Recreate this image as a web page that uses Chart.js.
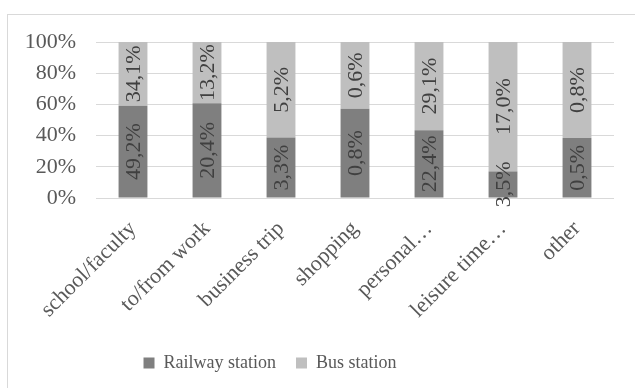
<!DOCTYPE html>
<html>
<head>
<meta charset="utf-8">
<script src="https://cdn.jsdelivr.net/npm/chart.js@4/dist/chart.umd.min.js"></script>
<style>
  html, body { margin: 0; padding: 0; background: #fff; }
  #wrap { position: relative; width: 635px; height: 388px; overflow: hidden; }
  #frame { position: absolute; left: 7px; top: 14px; width: 700px; height: 500px; border: 1px solid #d9d9d9; }
  #chart { position: absolute; left: 0; top: 0; }
</style>
</head>
<body>
<div id="wrap">
  <div id="frame"></div>
  <canvas id="chart" width="635" height="388"></canvas>
</div>
<script>
  /* ─── Data ─── */
  const categories = ["school/faculty", "to/from work", "business trip", "shopping", "personal…", "leisure time…", "other"];
  const railway = [49.2, 20.4, 3.3, 0.8, 22.4, 3.5, 0.5];
  const bus = [34.1, 13.2, 5.2, 0.6, 29.1, 17.0, 0.8];
  const yTicks = [0, 20, 40, 60, 80, 100];

  const SERIF = '"Liberation Serif", "Times New Roman", serif';
  const TEXT = "#595959";

  // 100% stacked: share of each series within its category
  const share = (a, b) => a.map((v, i) => (v / (v + b[i])) * 100);
  const fmtComma = (v) => v.toFixed(1).replace(".", ",") + "%";

  /* ─── Data labels inside the bars, rotated ─── */
  const barLabels = {
    id: "barLabels",
    afterDatasetsDraw(chart) {
      const ctx = chart.ctx;
      ctx.save();
      ctx.font = `22px ${SERIF}`;
      ctx.fillStyle = "#404040";
      ctx.textAlign = "center";
      ctx.textBaseline = "middle";
      chart.data.datasets.forEach((ds, di) => {
        chart.getDatasetMeta(di).data.forEach((bar, i) => {
          const p = bar.getProps(["x", "y", "base"], true);
          ctx.save();
          ctx.translate(p.x, (p.y + p.base) / 2);
          ctx.rotate(-Math.PI / 2);
          ctx.fillText(fmtComma(ds.raw[i]), 0, 1);
          ctx.restore();
        });
      });
      ctx.restore();
    },
  };

  /* ─── Legend sits left of centre, as in the original ─── */
  const legendShift = {
    id: "legendShift",
    afterLayout(chart) {
      const lg = chart.legend;
      if (!lg) return;
      lg.left = 0;
      lg.right = 540;
      lg.width = 540;
    },
  };

  new Chart(document.getElementById("chart"), {
    type: "bar",
    data: {
      labels: categories,
      datasets: [
        { label: "Railway station", data: share(railway, bus), raw: railway, backgroundColor: "#7f7f7f" },
        { label: "Bus station", data: share(bus, railway), raw: bus, backgroundColor: "#bfbfbf" },
      ],
    },
    options: {
      responsive: false,
      animation: false,
      barPercentage: 0.39,
      categoryPercentage: 1,
      layout: { padding: { left: 0, right: 21, top: 42, bottom: 6 } },
      plugins: {
        tooltip: { enabled: false },
        legend: {
          position: "bottom",
          labels: {
            color: TEXT,
            font: { family: SERIF, size: 18 },
            boxWidth: 11,
            boxHeight: 11,
            padding: 20,
          },
        },
      },
      scales: {
        x: {
          stacked: true,
          grid: { display: false },
          border: { display: false },
          ticks: {
            color: TEXT,
            font: { family: SERIF, size: 22 },
            minRotation: 45,
            maxRotation: 45,
            padding: 10,
            autoSkip: false,
          },
          afterFit: (s) => { s.height = 136; },
        },
        y: {
          stacked: true,
          min: 0,
          max: 100,
          afterBuildTicks: (s) => { s.ticks = yTicks.map((v) => ({ value: v })); },
          grid: { color: "#d9d9d9", lineWidth: 1, drawTicks: false },
          border: { display: false },
          ticks: {
            color: TEXT,
            font: { family: SERIF, size: 22 },
            padding: 20,
            callback: (v) => v + "%",
          },
          afterFit: (s) => { s.width = 96; },
        },
      },
    },
    plugins: [barLabels, legendShift],
  });
</script>
</body>
</html>
